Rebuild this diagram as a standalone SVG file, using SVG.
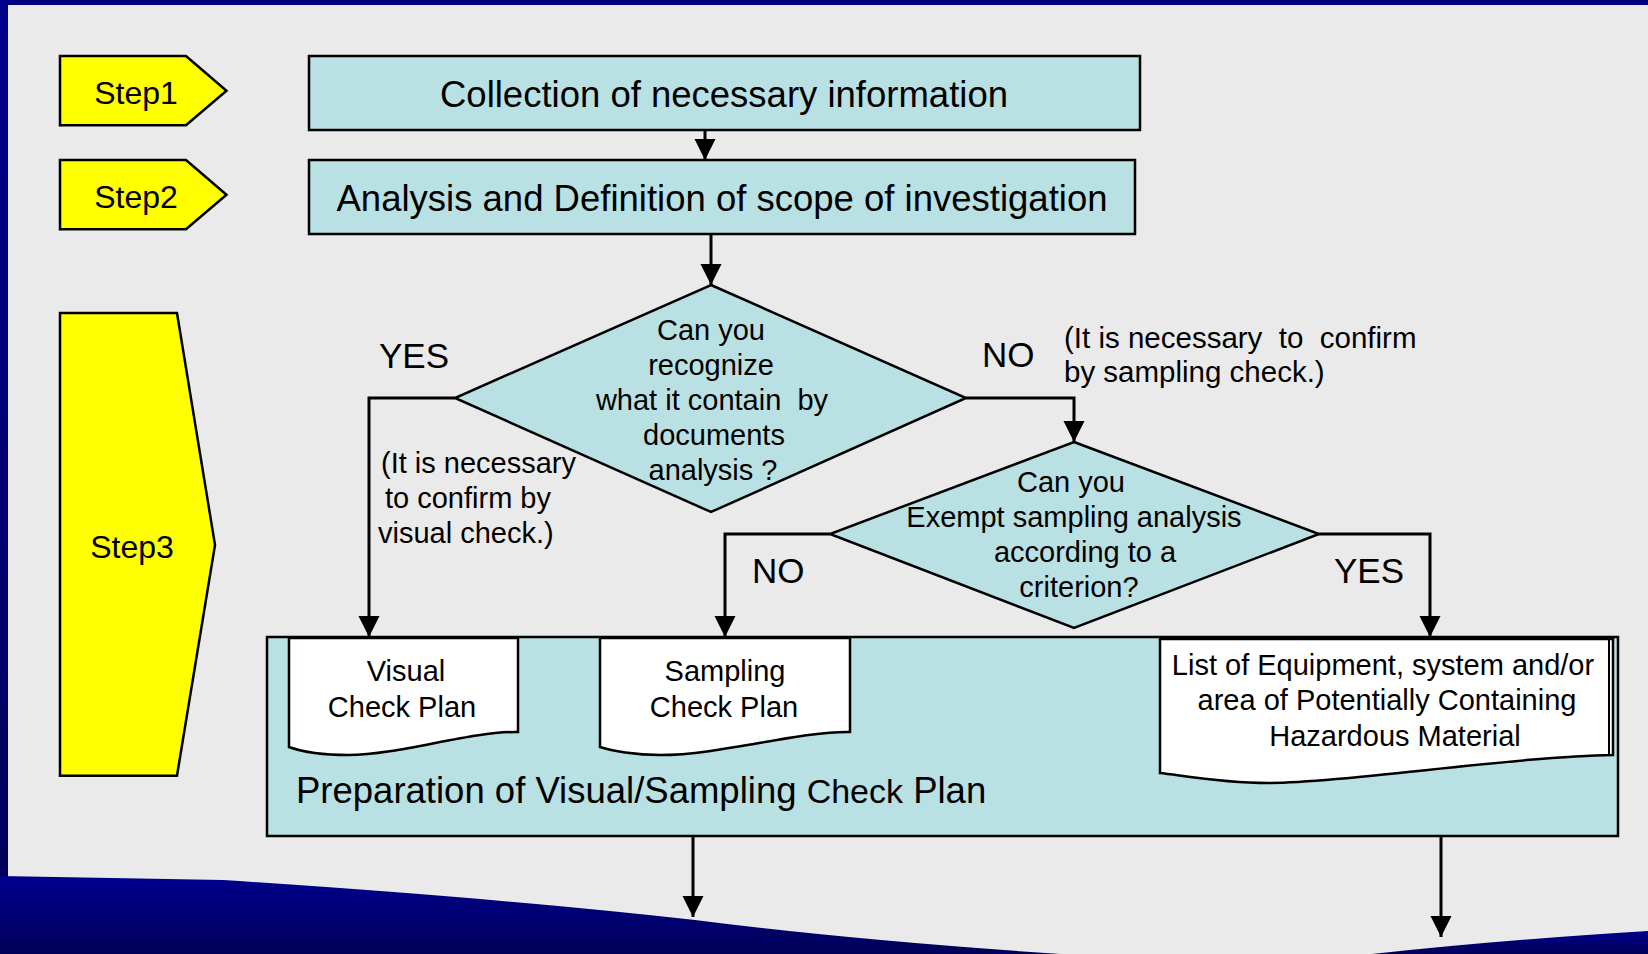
<svg xmlns="http://www.w3.org/2000/svg" width="1648" height="954" viewBox="0 0 1648 954">
<defs>
<linearGradient id="navy" x1="0" y1="0" x2="0" y2="1">
<stop offset="0" stop-color="#00008E"/>
<stop offset="1" stop-color="#000058"/>
</linearGradient>
<marker id="arr" markerUnits="userSpaceOnUse" markerWidth="22" markerHeight="22" refX="21" refY="10.5" orient="auto">
<path d="M0,0 L21,10.5 L0,21 Z" fill="#000"/>
</marker>
<style>
text{font-family:"Liberation Sans",Arial,sans-serif;fill:#000;}
.step{fill:#FFFF00;stroke:#000;stroke-width:2.5;}
.box{fill:#B9E0E3;stroke:#000;stroke-width:2.5;}
.doc{fill:#FFFFFF;stroke:#000;stroke-width:2.5;}
.con{fill:none;stroke:#000;stroke-width:3;marker-end:url(#arr);}
.t36{font-size:36.5px;}
.t32{font-size:32px;}
.t29{font-size:29px;}
.lbl{font-size:35px;}
.pre{white-space:pre;}
.mid{text-anchor:middle;}
</style>
</defs>
<rect x="0" y="0" width="1648" height="954" fill="#EAEAEA"/>
<g id="frame">
<rect x="0" y="0" width="1648" height="5" fill="#000080"/>
<rect x="0" y="0" width="8" height="954" fill="url(#navy)"/>
<path d="M0,876 L223,880 Q500,898 695,920 Q850,940 1060,954 L0,954 Z" fill="url(#navy)"/>
<path d="M1372,954 Q1500,940 1648,931 L1648,954 Z" fill="url(#navy)"/>
</g>
<g id="step1"><polygon class="step" points="60,56 186,56 226.5,90.7 186,125.3 60,125.3"/><text class="t32 mid" x="136" y="104">Step1</text></g>
<g id="step2"><polygon class="step" points="60,160 186,160 226.5,194.7 186,229.3 60,229.3"/><text class="t32 mid" x="136" y="208">Step2</text></g>
<g id="step3"><polygon class="step" points="60,313 177,313 215,545 177,775.7 60,775.7"/><text class="t32 mid" x="132" y="558">Step3</text></g>
<g id="prep"><rect class="box" x="267" y="637" width="1351" height="199"/><text class="t36" x="296" y="803">Preparation of Visual/Sampling <tspan font-size="34">Check</tspan> Plan</text></g>
<g id="collect"><rect class="box" x="309" y="56" width="831" height="74"/><text class="t36 mid" x="724" y="107">Collection of necessary information</text></g>
<g id="analysis"><rect class="box" x="309" y="160" width="826" height="74"/><text class="t36 mid" x="722" y="211">Analysis and Definition of scope of investigation</text></g>
<g id="decision1"><polygon class="box" points="711,285 966,398 711,512 455,398"/>
<text class="t29 mid pre" x="711"><tspan x="711" y="340">Can you</tspan><tspan x="711" y="375">recognize</tspan><tspan x="712" y="410">what it contain  by</tspan><tspan x="714" y="445">documents</tspan><tspan x="713" y="480">analysis ?</tspan></text></g>
<g id="decision2"><polygon class="box" points="1074,442 1319,534 1074,628 830,534"/>
<text class="t29 mid"><tspan x="1071" y="492">Can you</tspan><tspan x="1074" y="527">Exempt sampling analysis</tspan><tspan x="1085" y="562">according to a</tspan><tspan x="1079" y="597">criterion?</tspan></text></g>
<g id="visualplan"><path class="doc" d="M289,638 H518 V732 C470,731 400,755 348,755 C320,755 300,751 289,747 Z"/>
<text class="t29 mid"><tspan x="406" y="681">Visual</tspan><tspan x="402" y="717">Check Plan</tspan></text></g>
<g id="samplingplan"><path class="doc" d="M600,638 H850 V732 C800,731 720,755 660,755 C635,755 612,751 600,747 Z"/>
<text class="t29 mid"><tspan x="725" y="681">Sampling</tspan><tspan x="724" y="717">Check Plan</tspan></text></g>
<g id="hazlist"><path class="doc" d="M1160,639 H1613 V755 C1520,756 1340,783 1268,783 C1220,783 1180,775 1160,773 Z"/><line x1="1609" y1="640" x2="1609" y2="755" stroke="#000" stroke-width="2"/>
<text class="t29 mid"><tspan x="1383" y="675">List of Equipment, system and/or</tspan><tspan x="1387" y="710">area of Potentially Containing</tspan><tspan x="1395" y="746">Hazardous Material</tspan></text></g>
<g id="connectors">
<path class="con" d="M705,130 V160"/>
<path class="con" d="M711,234 V285"/>
<path class="con" d="M455,398 H369 V637"/>
<path class="con" d="M966,398 H1074 V442"/>
<path class="con" d="M830,534 H725 V637"/>
<path class="con" d="M1319,534 H1430 V637"/>
<path class="con" d="M693,836 V917"/>
<path class="con" d="M1441,836 V937"/>
</g>
<g id="labels">
<text class="lbl" x="379" y="368">YES</text>
<text class="lbl" x="982" y="367">NO</text>
<text class="lbl" x="752" y="583">NO</text>
<text class="lbl" x="1334" y="583">YES</text>
<text class="pre" font-size="29.5"><tspan x="1064" y="348">(It is necessary  to  confirm</tspan><tspan x="1064" y="382">by sampling check.)</tspan></text>
<text class="t29 pre"><tspan x="381" y="473">(It is necessary</tspan><tspan x="385" y="508">to confirm by</tspan><tspan x="378" y="543">visual check.)</tspan></text>
</g>
</svg>
